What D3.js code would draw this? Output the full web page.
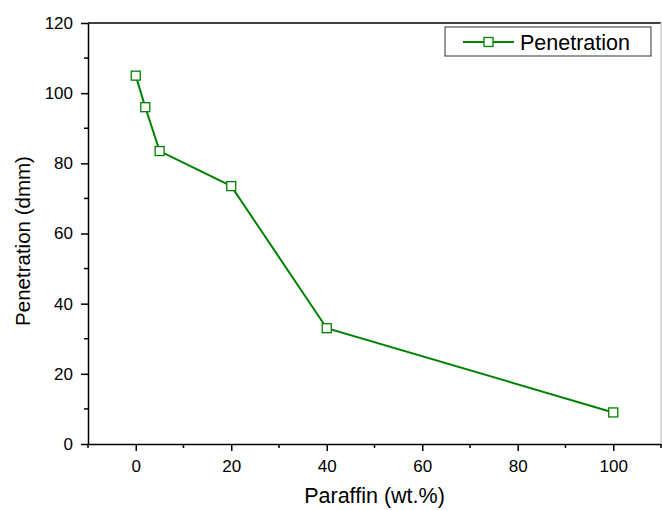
<!DOCTYPE html>
<html>
<head>
<meta charset="utf-8">
<script src="https://cdn.jsdelivr.net/npm/d3@7"></script>
<style>
  html, body { margin: 0; padding: 0; background: #fff; }
  svg { display: block; font-family: "Liberation Sans", Arial, sans-serif; }
</style>
</head>
<body>
<div id="chart"></div>
<script>
// data
const paraffin = [0, 2, 5, 20, 40, 100];
const penetration = [105, 96, 83.5, 73.5, 33, 9];
const xTicks = [0, 20, 40, 60, 80, 100];
const yTicks = [0, 20, 40, 60, 80, 100, 120];
const seriesName = 'Penetration';

const width = 662, height = 510;
const margin = { left: 88, right: 1, top: 23, bottom: 66 };
const green = '#008000';

const svg = d3.select('#chart').append('svg')
    .attr('width', width)
    .attr('height', height);

const x = d3.scaleLinear().domain([-10, 110]).range([margin.left, width - margin.right]);
const y = d3.scaleLinear().domain([0, 120]).range([height - margin.bottom, margin.top]);

// frame: top black, right light gray
svg.append('line')
    .attr('x1', x(-10)).attr('x2', x(110))
    .attr('y1', y(120)).attr('y2', y(120))
    .attr('stroke', '#000').attr('stroke-width', 1.5);
svg.append('line')
    .attr('x1', x(110)).attr('x2', x(110))
    .attr('y1', y(120)).attr('y2', y(0))
    .attr('stroke', '#d0d0d0').attr('stroke-width', 1.5);

// minor ticks
const xMinor = d3.range(-10, 111, 20);
const yMinor = d3.range(10, 120, 20);
svg.append('g').selectAll('line').data(xMinor).join('line')
    .attr('x1', d => x(d)).attr('x2', d => x(d))
    .attr('y1', y(0)).attr('y2', y(0) + 4)
    .attr('stroke', '#000').attr('stroke-width', 1.5);
svg.append('g').selectAll('line').data(yMinor).join('line')
    .attr('x1', x(-10)).attr('x2', x(-10) - 4)
    .attr('y1', d => y(d)).attr('y2', d => y(d))
    .attr('stroke', '#000').attr('stroke-width', 1.5);

const xAxis = svg.append('g')
    .attr('transform', `translate(0,${y(0)})`)
    .call(d3.axisBottom(x).tickValues(xTicks).tickSize(7).tickSizeOuter(0).tickPadding(9));
const yAxis = svg.append('g')
    .attr('transform', `translate(${x(-10)},0)`)
    .call(d3.axisLeft(y).tickValues(yTicks).tickSize(7).tickSizeOuter(0).tickPadding(8));

[xAxis, yAxis].forEach(g => {
    g.select('.domain').attr('stroke', '#000').attr('stroke-width', 1.5);
    g.selectAll('.tick line').attr('stroke', '#000').attr('stroke-width', 1.5);
    g.selectAll('.tick text')
        .attr('fill', '#000')
        .style('font-size', '17px')
        .style('font-family', '"Liberation Sans", Arial, sans-serif');
});

// axis titles
svg.append('text')
    .attr('x', x(50)).attr('y', 503)
    .attr('text-anchor', 'middle')
    .style('font-size', '21.5px')
    .text('Paraffin (wt.%)');
svg.append('text')
    .attr('transform', `translate(30,${y(60) + 7.5}) rotate(-90)`)
    .attr('text-anchor', 'middle')
    .style('font-size', '20.5px')
    .text('Penetration (dmm)');

// series
const pts = paraffin.map((p, i) => [p, penetration[i]]);
svg.append('path')
    .datum(pts)
    .attr('fill', 'none')
    .attr('stroke', green)
    .attr('stroke-width', 2)
    .attr('d', d3.line().x(d => x(d[0])).y(d => y(d[1])));

const sq = 9;
svg.append('g').selectAll('rect').data(pts).join('rect')
    .attr('x', d => x(d[0]) - sq / 2)
    .attr('y', d => y(d[1]) - sq / 2)
    .attr('width', sq).attr('height', sq)
    .attr('fill', '#fff')
    .attr('stroke', green)
    .attr('stroke-width', 1.3);

// legend
const leg = svg.append('g').attr('transform', 'translate(445,27)');
leg.append('rect')
    .attr('width', 206).attr('height', 29)
    .attr('fill', '#fff')
    .attr('stroke', '#333').attr('stroke-width', 1);
leg.append('line')
    .attr('x1', 18).attr('x2', 69)
    .attr('y1', 15).attr('y2', 15)
    .attr('stroke', green).attr('stroke-width', 2);
leg.append('rect')
    .attr('x', 43.5 - sq / 2).attr('y', 15 - sq / 2)
    .attr('width', sq).attr('height', sq)
    .attr('fill', '#fff')
    .attr('stroke', green).attr('stroke-width', 1.3);
leg.append('text')
    .attr('x', 75).attr('y', 22.5)
    .style('font-size', '21.5px')
    .text(seriesName);
</script>
</body>
</html>
